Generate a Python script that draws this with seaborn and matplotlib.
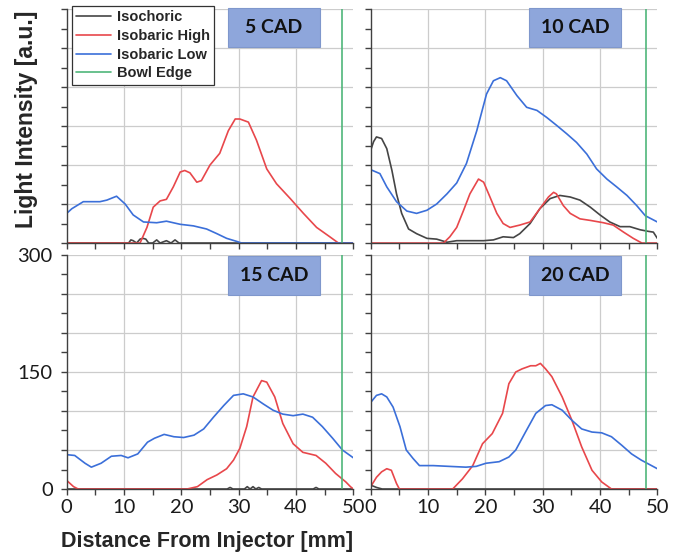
import matplotlib
matplotlib.use("Agg")
import matplotlib.pyplot as plt
import matplotlib.patches as mpatches
from matplotlib.ticker import MultipleLocator, FuncFormatter
import seaborn as sns

# ---- data (distance in mm, intensity in a.u.) ----
panel_titles = ["5 CAD", "10 CAD", "15 CAD", "20 CAD"]
series_names = ["Isochoric", "Isobaric High", "Isobaric Low", "Bowl Edge"]
bowl_edge = 48.0

# 5 CAD
cad5_iso_x = [0, 10.8, 11.2, 11.6, 12.2, 12.8, 13.3, 13.8, 14.3, 15.0, 15.7, 16.3, 17.4, 18.2, 18.9, 19.6, 29.0, 50]
cad5_iso_y = [0, 0, 4, 3, 0, 5, 6, 5, 0, 0, 4, 0, 3, 0, 4, 0, 0, 0]
cad5_high_x = [0, 12.8, 14.0, 15.1, 16.3, 17.4, 18.6, 19.8, 20.6, 21.5, 22.7, 23.5, 25.0, 26.7, 28.2, 29.4, 30.2,
               31.7, 33.1, 34.9, 36.6, 39.0, 41.3, 43.6, 45.9, 47.4, 50]
cad5_high_y = [0, 0, 20, 46, 54, 56, 72, 91, 93, 90, 78, 80, 100, 115, 144, 159, 159,
               155, 132, 95, 76, 57, 38, 20, 8, 0, 0]
cad5_low_x = [0, 0.9, 2.9, 5.8, 7.0, 8.7, 10.2, 11.6, 13.4, 15.7, 17.4, 19.8, 22.1, 24.4, 26.2, 27.9, 29.7, 30.5, 50]
cad5_low_y = [38, 44, 53, 53, 55, 60, 50, 36, 27, 26, 28, 24, 22, 18, 12, 6, 2, 0, 0]

# 10 CAD
cad10_iso_x = [0, 0.5, 1.0, 1.9, 2.8, 3.7, 4.5, 5.4, 6.6, 8.0, 9.8, 11.5, 13.3, 15.0, 16.7, 19.7, 21.4, 23.1, 24.9,
               26.0, 27.8, 29.5, 31.3, 33.0, 34.8, 36.5, 38.3, 40.0, 41.7, 43.5, 45.2, 47.0, 48.4, 49.3, 50]
cad10_iso_y = [119, 130, 136, 134, 121, 93, 63, 38, 18, 12, 6, 5, 1, 3, 3, 3, 4, 8, 7,
               12, 25, 44, 57, 61, 59, 55, 46, 36, 27, 21, 21, 17, 15, 14, 6]
cad10_high_x = [0, 12.7, 13.8, 15.0, 16.2, 17.3, 18.8, 19.7, 20.8, 22.0, 23.1, 24.3, 26.0, 27.8, 29.5, 31.0, 31.9,
                32.4, 33.6, 34.8, 36.5, 38.3, 40.6, 42.3, 44.1, 45.8, 47.3, 50]
cad10_high_y = [0, 0, 8, 20, 42, 63, 82, 78, 59, 38, 25, 20, 23, 27, 44, 59, 65,
                63, 48, 38, 31, 29, 26, 23, 14, 6, 0, 0]
cad10_low_x = [0, 1.6, 2.8, 4.5, 6.3, 8.0, 9.8, 11.5, 13.3, 15.0, 16.7, 18.5, 20.2, 21.4, 22.6, 23.7, 25.5, 27.2,
               29.0, 30.7, 32.4, 34.2, 35.9, 37.7, 39.4, 41.2, 42.9, 44.7, 46.4, 47.9, 50]
cad10_low_y = [94, 89, 72, 53, 41, 38, 42, 50, 63, 77, 102, 144, 191, 208, 212, 208, 189, 174,
               170, 161, 151, 140, 129, 114, 95, 82, 72, 61, 48, 35, 27]

# 15 CAD
cad15_iso_x = [0, 28.0, 28.5, 29.0, 31.0, 31.5, 32.0, 32.5, 33.0, 33.5, 34.0, 43.0, 43.5, 44.0, 50]
cad15_iso_y = [0, 0, 2, 0, 0, 3, 0, 3, 0, 2, 0, 0, 2, 0, 0]
cad15_high_x = [0, 1.2, 2.0, 21.0, 22.8, 24.5, 26.2, 27.9, 29.1, 30.2, 31.4, 32.5, 34.0, 34.9, 36.3, 37.7, 39.5,
                41.2, 43.5, 45.2, 46.9, 48.7, 49.5, 50]
cad15_high_y = [11, 3, 0, 0, 3, 12, 18, 26, 37, 52, 80, 118, 139, 137, 118, 84, 58,
                47, 43, 33, 20, 9, 3, 0]
cad15_low_x = [0, 1.4, 3.2, 4.3, 6.0, 7.8, 9.5, 10.7, 12.4, 14.1, 15.3, 17.0, 18.7, 20.4, 22.2, 23.9, 25.6, 27.4,
               29.1, 30.8, 32.5, 34.3, 36.0, 37.7, 39.5, 41.2, 42.9, 44.6, 46.4, 48.1, 50]
cad15_low_y = [44, 43, 33, 28, 33, 42, 43, 40, 45, 60, 65, 70, 67, 66, 69, 77, 92, 107,
               120, 122, 118, 109, 101, 96, 94, 96, 92, 80, 65, 50, 40]

# 20 CAD
cad20_iso_x = [0, 1.0, 2.0, 50]
cad20_iso_y = [5, 2, 0, 0]
cad20_high_x = [0, 1.0, 1.9, 2.8, 3.6, 4.5, 5.0, 14.3, 16.0, 17.8, 19.5, 21.2, 23.0, 24.1, 25.3, 26.4, 27.9,
                28.8, 29.6, 30.5, 31.6, 33.4, 35.1, 36.8, 38.6, 40.3, 42.0, 50]
cad20_high_y = [3, 15, 22, 26, 24, 7, 0, 0, 13, 30, 58, 71, 97, 135, 150, 154, 158,
                158, 161, 154, 144, 118, 88, 54, 24, 9, 0, 0]
cad20_low_x = [0, 1.0, 1.9, 2.8, 3.9, 5.1, 6.2, 7.4, 8.5, 10.9, 13.7, 16.6, 18.4, 20.1, 22.4, 24.1, 25.3, 27.0,
               28.8, 30.5, 31.6, 33.4, 35.1, 36.8, 38.6, 40.3, 42.0, 43.8, 45.5, 47.2, 50]
cad20_low_y = [111, 120, 122, 118, 105, 80, 50, 39, 30, 30, 29, 28, 29, 33, 35, 41, 50, 73,
               97, 107, 108, 101, 88, 77, 73, 72, 67, 56, 45, 37, 26]

panels = [
    (cad5_iso_x, cad5_iso_y, cad5_high_x, cad5_high_y, cad5_low_x, cad5_low_y),
    (cad10_iso_x, cad10_iso_y, cad10_high_x, cad10_high_y, cad10_low_x, cad10_low_y),
    (cad15_iso_x, cad15_iso_y, cad15_high_x, cad15_high_y, cad15_low_x, cad15_low_y),
    (cad20_iso_x, cad20_iso_y, cad20_high_x, cad20_high_y, cad20_low_x, cad20_low_y),
]

colors = ["#454545", "#e8474b", "#3b6fd9", "#4fb67a"]
box_color = "#8ea6db"

sns.set_style("white")
plt.rcParams['font.family'] = ['Lato', 'DejaVu Sans']

fig = plt.figure(figsize=(6.91, 5.56), dpi=100)

# axes positions (fig fraction): left, bottom, width, height
positions = [
    (0.0965, 0.5629, 0.4148, 0.4209),
    (0.5365, 0.5629, 0.4148, 0.4209),
    (0.0965, 0.1205, 0.4148, 0.4209),
    (0.5365, 0.1205, 0.4148, 0.4209),
]
box_x = [0.563, 0.553, 0.563, 0.553]
box_top = [1.004, 1.004, 0.996, 0.996]


def label_some(v, pos):
    if abs(v) < 1e-6 or abs(v - 150) < 1e-6 or abs(v - 300) < 1e-6:
        return f"{int(round(v))}"
    return ""


for i, (iso_x, iso_y, hi_x, hi_y, lo_x, lo_y) in enumerate(panels):
    ax = fig.add_axes(positions[i])
    sns.lineplot(x=iso_x, y=iso_y, ax=ax, color=colors[0], lw=1.2, label=series_names[0], sort=False)
    sns.lineplot(x=hi_x, y=hi_y, ax=ax, color=colors[1], lw=1.2, label=series_names[1], sort=False)
    sns.lineplot(x=lo_x, y=lo_y, ax=ax, color=colors[2], lw=1.2, label=series_names[2], sort=False)
    ax.axvline(bowl_edge, color=colors[3], lw=1.2, label=series_names[3])

    ax.set_xlim(0, 50)
    ax.set_ylim(0, 300)
    ax.xaxis.set_major_locator(MultipleLocator(10))
    ax.xaxis.set_minor_locator(MultipleLocator(5))
    ax.yaxis.set_major_locator(MultipleLocator(50))
    ax.yaxis.set_minor_locator(MultipleLocator(25))
    ax.grid(True, which='major', color="#cccccc", lw=0.9)
    ax.set_axisbelow(True)
    for g in ax.xaxis.get_gridlines():
        if g.get_xdata()[0] in (0, 50):
            g.set_visible(False)
    for g in ax.yaxis.get_gridlines():
        if g.get_ydata()[0] in (0, 300):
            g.set_visible(False)

    for s in ['top', 'right']:
        ax.spines[s].set_visible(False)
    for s in ['left', 'bottom']:
        ax.spines[s].set_color("#404040")
        ax.spines[s].set_linewidth(1.0)
    ax.tick_params(which='both', direction='out', color="#404040", width=1.0, length=4,
                   left=True, bottom=True, labelsize=14.5, labelcolor="#1a1a1a")
    ax.tick_params(axis='y', pad=6)
    ax.tick_params(axis='x', pad=3)

    if i < 2:
        ax.set_xticklabels([])
    if i == 2:
        ax.yaxis.set_major_formatter(FuncFormatter(label_some))
    else:
        ax.set_yticklabels([])

    if i == 0:
        leg = ax.legend(loc='upper left', bbox_to_anchor=(0.018, 1.013), borderaxespad=0,
                        frameon=True, fancybox=False, edgecolor="#333333", framealpha=1,
                        prop={'family': 'Liberation Sans', 'weight': 'bold', 'size': 10.5},
                        handlelength=2.4, labelspacing=0.32, borderpad=0.3, handletextpad=0.4)
        leg.get_frame().set_linewidth(0.9)
    elif ax.get_legend() is not None:
        ax.get_legend().remove()

    rect = mpatches.Rectangle((box_x[i], box_top[i] - 0.167), 0.32, 0.167, transform=ax.transAxes,
                              facecolor=box_color, edgecolor="#7f97cc", lw=0.8, clip_on=False, zorder=5)
    ax.add_patch(rect)
    ax.text(box_x[i] + 0.16, box_top[i] - 0.083, panel_titles[i], transform=ax.transAxes,
            ha='center', va='center', fontsize=14, fontweight='bold', color="#111111", zorder=6)

fig.text(27 / 691, 1 - 119 / 556, "Light Intensity [a.u.]", rotation=90, ha='center', va='center',
         family='Liberation Sans', weight='bold', size=16.5)
fig.text(207 / 691, 1 - 542 / 556, "Distance From Injector [mm]", ha='center', va='center',
         family='Liberation Sans', weight='bold', size=15.5)

fig.savefig("out.png", dpi=100)
